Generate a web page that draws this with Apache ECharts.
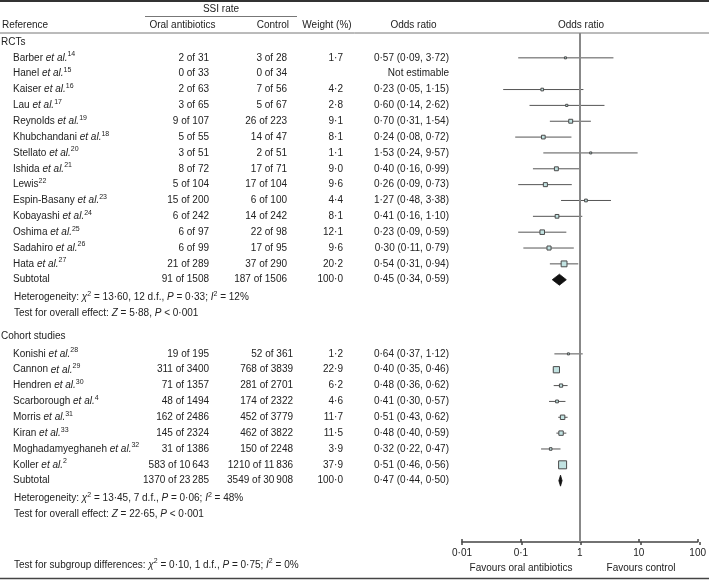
<!DOCTYPE html>
<html><head><meta charset="utf-8">
<script src="https://cdn.jsdelivr.net/npm/echarts@6/dist/echarts.min.js"></script>
<style>html,body{margin:0;padding:0;background:#fff}#c{width:709px;height:580px}</style>
</head><body><div id="c"></div>
<script>
// ---------- DATA ----------
const rctNames   = ['Barber','Hanel','Kaiser','Lau','Reynolds','Khubchandani','Stellato','Ishida','Lewis','Espin-Basany','Kobayashi','Oshima','Sadahiro','Hata'];
const rctEtAl    = [true,true,true,true,true,true,true,true,false,true,true,true,true,true];
const rctRefs    = ['14','15','16','17','19','18','20','21','22','23','24','25','26','27'];
const rctOral    = ['2 of 31','0 of 33','2 of 63','3 of 65','9 of 107','5 of 55','3 of 51','8 of 72','5 of 104','15 of 200','6 of 242','6 of 97','6 of 99','21 of 289'];
const rctControl = ['3 of 28','0 of 34','7 of 56','5 of 67','26 of 223','14 of 47','2 of 51','17 of 71','17 of 104','6 of 100','14 of 242','22 of 98','17 of 95','37 of 290'];
const rctWeight  = [1.7,null,4.2,2.8,9.1,8.1,1.1,9.0,9.6,4.4,8.1,12.1,9.6,20.2];
const rctOR      = [0.57,null,0.23,0.60,0.70,0.24,1.53,0.40,0.26,1.27,0.41,0.23,0.30,0.54];
const rctLo      = [0.09,null,0.05,0.14,0.31,0.08,0.24,0.16,0.09,0.48,0.16,0.09,0.11,0.31];
const rctHi      = [3.72,null,1.15,2.62,1.54,0.72,9.57,0.99,0.73,3.38,1.10,0.59,0.79,0.94];
const rctSubtotal = {oral:'91 of 1508', control:'187 of 1506', weight:100.0, or:0.45, lo:0.34, hi:0.59};
const rctHetero  = 'Heterogeneity: {i|χ}{s|2} = 13·60, 12 d.f., {i|P} = 0·33; {i|I}{s|2} = 12%';
const rctOverall = 'Test for overall effect: {i|Z} = 5·88, {i|P} < 0·001';

const cohNames   = ['Konishi','Cannon','Hendren','Scarborough','Morris','Kiran','Moghadamyeghaneh','Koller'];
const cohRefs    = ['28','29','30','4','31','33','32','2'];
const cohOral    = ['19 of 195','311 of 3400','71 of 1357','48 of 1494','162 of 2486','145 of 2324','31 of 1386','583 of 10\u2009643'];
const cohControl = ['52 of 361','768 of 3839','281 of 2701','174 of 2322','452 of 3779','462 of 3822','150 of 2248','1210 of 11\u2009836'];
const cohWeight  = [1.2,22.9,6.2,4.6,11.7,11.5,3.9,37.9];
const cohOR      = [0.64,0.40,0.48,0.41,0.51,0.48,0.32,0.51];
const cohLo      = [0.37,0.35,0.36,0.30,0.43,0.40,0.22,0.46];
const cohHi      = [1.12,0.46,0.62,0.57,0.62,0.59,0.47,0.56];
const cohSubtotal = {oral:'1370 of 23\u2009285', control:'3549 of 30\u2009908', weight:100.0, or:0.47, lo:0.44, hi:0.50};
const cohHetero  = 'Heterogeneity: {i|χ}{s|2} = 13·45, 7 d.f., {i|P} = 0·06; {i|I}{s|2} = 48%';
const cohOverall = 'Test for overall effect: {i|Z} = 22·65, {i|P} < 0·001';
const subgroupTest = 'Test for subgroup differences: {i|χ}{s|2} = 0·10, 1 d.f., {i|P} = 0·75; {i|I}{s|2} = 0%';

const tickValues = [0.01,0.1,1,10,100];
const tickLabels = ['0·01','0·1','1','10','100'];

// ---------- LAYOUT / STYLE ----------
const FONT = 'Arial, "Liberation Sans", Helvetica, sans-serif';
const TXT = '#222';
const FS = 10;
const rich = {
  i: {fontStyle:'italic', fontSize:FS, fontFamily:FONT, lineHeight:14, fill:TXT, color:TXT},
  s: {fontSize:7, fontFamily:FONT, lineHeight:7, verticalAlign:'top', fill:TXT, color:TXT}
};
const COL = {sec:1, name:13, oral:209, weight:343, orTxt:449};
const dot = (v,d)=>v.toFixed(d).replace('.', '·');

// build rows
const rows = [];
function addSection(title, start, names, etal, refs, oral, control, weight, or, lo, hi, sub, het, ovr, ctrlX){
  rows.push({row:start, kind:'section', text:title});
  const s0 = start + (title === 'RCTs' ? 1 : 1.13);
  names.forEach((n,k)=>{
    rows.push({row:s0+k, kind:'study',
      text: n + (etal[k] ? ' {i|et al.}' : '') + '{s|' + refs[k] + '}',
      oral:oral[k], control:control[k], ctrlX:ctrlX,
      weight: weight[k]==null ? '' : dot(weight[k],1),
      orTxt: or[k]==null ? 'Not estimable' : dot(or[k],2)+' ('+dot(lo[k],2)+', '+dot(hi[k],2)+')',
      or:or[k], lo:lo[k], hi:hi[k], w:weight[k]});
  });
  const sr = s0 + names.length;
  rows.push({row:sr, kind:'subtotal', text:'Subtotal', oral:sub.oral, control:sub.control, ctrlX:ctrlX,
    weight:dot(sub.weight,1), orTxt:dot(sub.or,2)+' ('+dot(sub.lo,2)+', '+dot(sub.hi,2)+')',
    or:sub.or, lo:sub.lo, hi:sub.hi});
  rows.push({row:sr+1.12, kind:'note', text:het});
  rows.push({row:sr+2.12, kind:'note', text:ovr});
}
addSection('RCTs', 0, rctNames, rctEtAl, rctRefs, rctOral, rctControl, rctWeight, rctOR, rctLo, rctHi, rctSubtotal, rctHetero, rctOverall, 287);
addSection('Cohort studies', 18.55, cohNames, cohNames.map(()=>true), cohRefs, cohOral, cohControl, cohWeight, cohOR, cohLo, cohHi, cohSubtotal, cohHetero, cohOverall, 293);

function txt(x, y, t, align){
  return {type:'text', x:x, y:y, silent:true,
    style:{text:t, fill:TXT, font: FS+'px '+FONT, align:align||'left', verticalAlign:'middle', lineHeight:14, rich:rich}};
}

function renderItem(params, api){
  const r = rows[api.value(2)];
  const y = api.coord([1, api.value(1)])[1];
  const ch = [];
  if (r.kind === 'section') ch.push(txt(COL.sec, y, r.text));
  else if (r.kind === 'note') ch.push(txt(COL.name+1, y, r.text));
  else {
    ch.push(txt(COL.name, y, r.text));
    ch.push(txt(COL.oral, y, r.oral, 'right'));
    ch.push(txt(r.ctrlX, y, r.control, 'right'));
    ch.push(txt(COL.weight, y, r.weight, 'right'));
    ch.push(txt(COL.orTxt, y, r.orTxt, 'right'));
    if (r.or != null) {
      const xc = api.coord([r.or, api.value(1)])[0];
      const xl = api.coord([r.lo, api.value(1)])[0];
      const xh = api.coord([r.hi, api.value(1)])[0];
      if (r.kind === 'study') {
        ch.push({type:'line', shape:{x1:xl, y1:y, x2:xh, y2:y}, style:{stroke:'#555', lineWidth:1}});
        const s = Math.max(2, 1.3*Math.sqrt(r.w));
        ch.push({type:'rect', shape:{x:xc-s/2, y:y-s/2, width:s, height:s},
          style:{fill:'#c2e3e2', stroke:'#4a4a4a', lineWidth:1}});
      } else {
        const h = 5.5;
        ch.push({type:'polygon', shape:{points:[[xl,y],[xc,y-h],[xh,y],[xc,y+h]]},
          style:{fill:'#111', stroke:'#111', lineWidth:0.8}});
      }
    }
  }
  return {type:'group', children:ch};
}

const chart = echarts.init(document.getElementById('c'), null, {renderer:'canvas'});
const W = 709;
const gridBox = {left:462, right:9, top:33, bottom:38, containLabel:false};
chart.setOption({
  animation:false,
  backgroundColor:'#fff',
  grid:[Object.assign({}, gridBox), Object.assign({}, gridBox)],
  xAxis:[{
    gridIndex:0, type:'log', logBase:10, min:0.01, max:100, interval:1, position:'bottom',
    axisLine:{show:true, onZero:false, lineStyle:{color:'#444', width:1.5}},
    axisTick:{show:true, inside:true, length:3, lineStyle:{color:'#444', width:1.5}},
    axisLabel:{color:TXT, fontSize:FS, fontFamily:FONT, margin:6,
      formatter:v=>tickLabels[Math.round(Math.log10(v))+2]},
    splitLine:{show:false}
  },{
    gridIndex:1, type:'log', logBase:10, min:0.01, max:100, interval:1, position:'bottom',
    axisLine:{show:false, onZero:false},
    axisTick:{show:true, inside:false, length:3, lineStyle:{color:'#444', width:1.5}},
    axisLabel:{show:false}, splitLine:{show:false}
  }],
  yAxis:[
    {gridIndex:0, type:'value', inverse:true, min:-0.568, max:31.55, show:false, splitLine:{show:false}},
    {gridIndex:1, type:'value', inverse:true, min:-0.568, max:31.55, show:false, splitLine:{show:false}}
  ],
  series:[{
    type:'custom', clip:false, silent:true, xAxisIndex:0, yAxisIndex:0,
    renderItem:renderItem,
    data: rows.map((r,i)=>[r.or || 1, r.row, i]),
    encode:{x:0, y:1},
    markLine:{silent:true, symbol:'none', label:{show:false},
      lineStyle:{color:'#888', width:2, type:'solid'},
      data:[{xAxis:1}]}
  }],
  graphic:[
    {type:'line', shape:{x1:0,y1:1,x2:W,y2:1}, style:{stroke:'#333', lineWidth:2}},
    {type:'line', shape:{x1:145,y1:16.5,x2:297,y2:16.5}, style:{stroke:'#777', lineWidth:1}},
    {type:'line', shape:{x1:0,y1:33,x2:W,y2:33}, style:{stroke:'#777', lineWidth:1}},
    {type:'line', shape:{x1:0,y1:578.5,x2:W,y2:578.5}, style:{stroke:'#444', lineWidth:1.5}},
    {type:'text', x:221, y:9, style:{text:'SSI rate', fill:TXT, font:FS+'px '+FONT, align:'center', verticalAlign:'middle'}},
    {type:'text', x:2, y:25, style:{text:'Reference', fill:TXT, font:FS+'px '+FONT, align:'left', verticalAlign:'middle'}},
    {type:'text', x:182.5, y:25, style:{text:'Oral antibiotics', fill:TXT, font:FS+'px '+FONT, align:'center', verticalAlign:'middle'}},
    {type:'text', x:289, y:25, style:{text:'Control', fill:TXT, font:FS+'px '+FONT, align:'right', verticalAlign:'middle'}},
    {type:'text', x:327, y:25, style:{text:'Weight (%)', fill:TXT, font:FS+'px '+FONT, align:'center', verticalAlign:'middle'}},
    {type:'text', x:413.5, y:25, style:{text:'Odds ratio', fill:TXT, font:FS+'px '+FONT, align:'center', verticalAlign:'middle'}},
    {type:'text', x:581, y:25, style:{text:'Odds ratio', fill:TXT, font:FS+'px '+FONT, align:'center', verticalAlign:'middle'}},
    {type:'text', x:521, y:568, style:{text:'Favours oral antibiotics', fill:TXT, font:FS+'px '+FONT, align:'center', verticalAlign:'middle'}},
    {type:'text', x:641, y:568, style:{text:'Favours control', fill:TXT, font:FS+'px '+FONT, align:'center', verticalAlign:'middle'}},
    {type:'text', x:14, y:565, style:{text:subgroupTest, fill:TXT, font:FS+'px '+FONT, align:'left', verticalAlign:'middle', lineHeight:14, rich:rich}}
  ]
});
</script></body></html>
